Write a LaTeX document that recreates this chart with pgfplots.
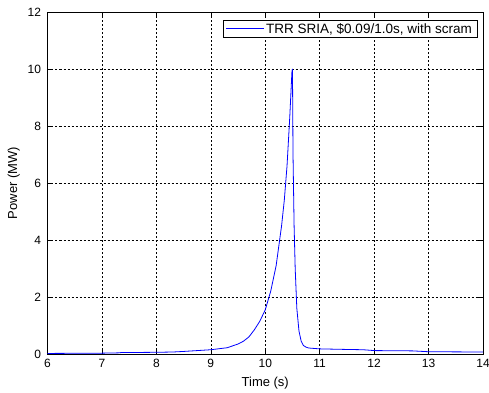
\documentclass[border=0pt]{standalone}
\usepackage{pgfplots}
\pgfplotsset{compat=1.18}
\usepackage{fontspec}
\setmainfont{Liberation Sans}
\begin{document}
\begin{tikzpicture}
\begin{axis}[
  at={(0,0)}, anchor=south west,
  scale only axis, width=435.5pt, height=342pt,
  xmin=6, xmax=14, ymin=0, ymax=12,
  xtick={6,7,...,14}, ytick={0,2,...,12},
  tick align=inside, major tick length=5pt,
  xtick pos=both, ytick pos=both,
  grid=major,
  major grid style={black, line width=0.5pt, dash pattern=on 2pt off 2pt},
  axis line style={black, line width=0.6pt},
  tick style={black, line width=0.6pt},
  /pgf/number format/assume math mode=true,
  ticklabel style={font=\fontsize{12}{14}\selectfont},
  xticklabel style={yshift=-2pt},
  yticklabel style={xshift=-3pt},
  label style={font=\fontsize{13}{15}\selectfont},
  xlabel={Time (s)}, ylabel={Power (MW)},
  xlabel style={yshift=-2pt},
  ylabel style={yshift=1pt},
  legend style={at={(1,1)}, anchor=north east, xshift=-6pt, yshift=-8pt,
    nodes={font=\fontsize{13.5}{15}\selectfont},
    inner xsep=3pt, inner ysep=1pt},
  legend cell align=left,
]
\addplot[color=blue, line width=0.8pt,
  legend image code/.code={\node[inner sep=0pt, outer sep=0pt, anchor=west] at (0pt,0pt) {\textcolor{blue}{\rule[-0.4pt]{38pt}{0.8pt}}};}] coordinates {
(6.0,0.02) (7.0,0.03) (7.3,0.04) (7.35,0.05) (8.0,0.06) (8.3,0.07) (8.5,0.09)
(9.0,0.15) (9.3,0.22) (9.5,0.35) (9.6,0.45) (9.7,0.6) (9.8,0.85) (9.9,1.15)
(10.0,1.55) (10.1,2.2) (10.2,3.1) (10.3,4.5) (10.35,5.4) (10.4,6.6) (10.45,8.3)
(10.49,9.9) (10.5,10.0) (10.51,7.0) (10.53,4.5) (10.55,3.0) (10.58,1.6)
(10.62,0.8) (10.66,0.45) (10.7,0.3) (10.75,0.24) (10.8,0.21) (11.0,0.18)
(11.5,0.16) (11.8,0.15) (12.0,0.12) (12.7,0.11) (13.0,0.08) (14.0,0.07)
};
\addlegendentry{TRR SRIA, \$0.09/1.0s, with scram}
\end{axis}
\pgfresetboundingbox
\path[use as bounding box] (-47.5pt,-38pt) rectangle (441.5pt,354pt);
\end{tikzpicture}
\end{document}
